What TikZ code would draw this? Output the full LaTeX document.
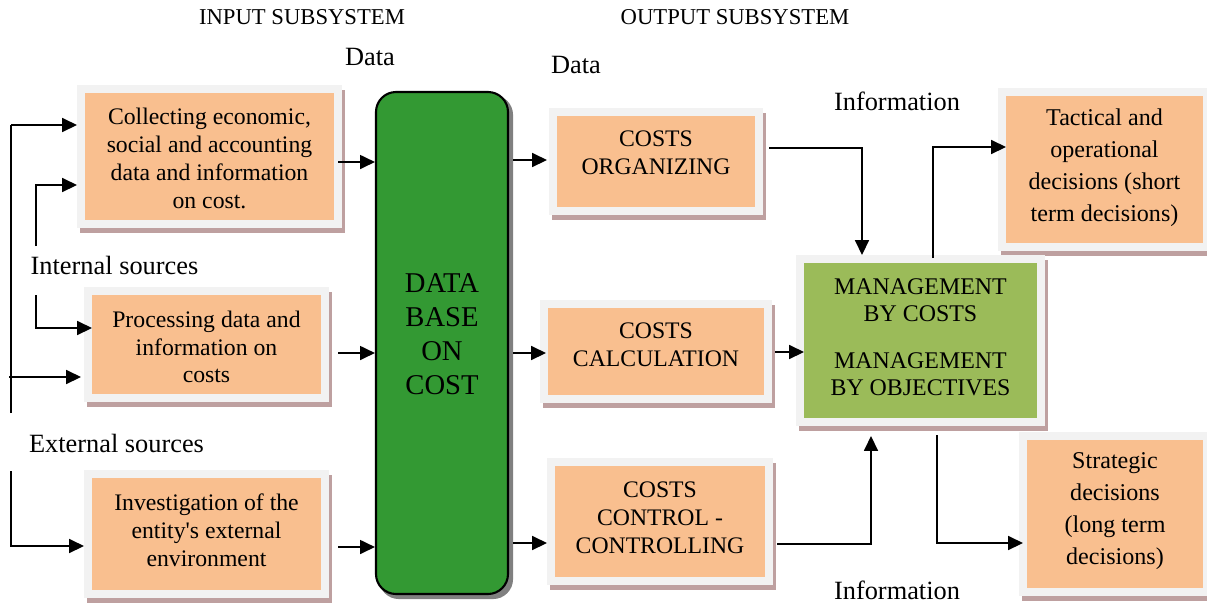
\documentclass[tikz,border=0pt]{standalone}
\usepackage{fontspec}
\setmainfont{Liberation Serif}
\usetikzlibrary{arrows.meta,calc}
\pgfdeclarelayer{bg}
\pgfsetlayers{bg,main}
\definecolor{boxorange}{RGB}{249,191,143}
\definecolor{framegray}{RGB}{242,242,242}
\definecolor{shadowc}{RGB}{190,160,160}
\definecolor{dbgreen}{RGB}{51,153,51}
\definecolor{mgtgreen}{RGB}{155,187,89}
\definecolor{dbshadow}{RGB}{128,128,128}
\begin{document}
\begin{tikzpicture}[x=0.02cm,y=-0.02cm,
  box/.style={draw=framegray, line width=0.16cm, fill=boxorange, inner sep=0pt},
  bx/.style 2 args={box, minimum width=#1*0.02cm, minimum height=#2*0.02cm},
  dbbox/.style={draw=black, line width=1.2pt, fill=dbgreen, rounded corners=0.4cm,
    minimum width=132*0.02cm, minimum height=502*0.02cm, inner sep=0pt},
  txt/.style={align=center, inner sep=0pt, font=\fontsize{13.5}{15.8}\selectfont},
  txtwide/.style={align=center, inner sep=0pt, font=\fontsize{13.7}{18.2}\selectfont},
  dbtxt/.style={align=center, inner sep=0pt, font=\fontsize{16.3}{19.3}\selectfont},
  lbl/.style={inner sep=0pt, font=\fontsize{15}{18}\selectfont},
  ttl/.style={inner sep=0pt, font=\fontsize{12.9}{15}\selectfont},
  ln/.style={line width=0.85pt},
  conn/.style={line width=0.85pt, -{Triangle[length=8.5pt,width=8pt]}}]
\useasboundingbox (0,0) rectangle (1207,603);
\clip (0,0) rectangle (1207,603);

% boxes
\node[bx={257}{135}] (coll) at (209.5,156.5) {};
\node[bx={237}{107}] (proc) at (206.5,344.5) {};
\node[bx={237}{120}] (inv) at (206.5,534) {};
\node[dbbox] (db) at (442,343) {};
\node[bx={206}{99}] (org) at (656,161.5) {};
\node[bx={224}{95}] (calc) at (656,351.5) {};
\node[bx={218}{119}] (ctrl) at (660,521.5) {};
\node[bx={241}{163}, fill=mgtgreen] (mgt) at (920.5,340.5) {};
\node[bx={205}{155}] (tact) at (1104.5,169.5) {};
\node[bx={184}{156}] (strat) at (1115,514) {};

\begin{pgfonlayer}{bg}
\fill[white] (0,0) rectangle (1207,603);
\foreach \n in {coll,proc,inv,org,calc,ctrl,mgt,tact,strat}
  \fill[shadowc] ([shift={(3,5)}]\n.south west) rectangle ([shift={(3,5)}]\n.north east);
\fill[dbshadow, rounded corners=0.4cm] ([shift={(4,4)}]db.south west) rectangle ([shift={(4,4)}]db.north east);
\end{pgfonlayer}

% texts in boxes
\node[txt] (collT) at (209.5,158.5) {Collecting economic,\\social and accounting\\data and information\\on cost.};
\node[txt] (procT) at (206.5,347) {Processing data and\\information on\\costs};
\node[txt] (invT) at (206.5,530) {Investigation of the\\entity\textquotesingle s external\\environment};
\node[dbtxt] (dbT) at (442,334) {DATA\\BASE\\ON\\COST};
\node[txt] (orgT) at (656,153) {COSTS\\ORGANIZING};
\node[txt] (calcT) at (656,344.5) {COSTS\\CALCULATION};
\node[txt] (ctrlT) at (660,517.5) {COSTS\\CONTROL -\\CONTROLLING};
\node[txt, font=\fontsize{13.6}{15.4}\selectfont] (mgtT) at (920.5,337.5) {MANAGEMENT\\BY COSTS\\[11.4pt]MANAGEMENT\\BY OBJECTIVES};
\node[txtwide] (tactT) at (1104.5,168) {Tactical and\\operational\\decisions (short\\term decisions)};
\node[txtwide] (stratT) at (1115,511) {Strategic\\decisions\\(long term\\decisions)};

% free labels
\node[ttl] (inTitle) at (302,17) {INPUT SUBSYSTEM};
\node[ttl] (outTitle) at (735,17) {OUTPUT SUBSYSTEM};
\node[lbl] (data1) at (370,57) {Data};
\node[lbl] (data2) at (576,65) {Data};
\node[lbl] (info1) at (897,101) {Information};
\node[lbl] (info2) at (897,590) {Information};
\node[lbl] (ints) at (114.5,265) {Internal sources};
\node[lbl] (exts) at (116.5,443) {External sources};

% left side connectors
\coordinate (a1) at (11,413);
\coordinate (a2) at (11,125);
\coordinate (a3) at (9,377);
\draw[ln] (a1) -- (a2);
\draw[conn] (a2) -- (coll.west |- a2);
\draw[conn] (a3) -- ($(proc.west |- a3)+(-3,0)$);
\coordinate (b1) at (36,246);
\coordinate (b2) at (36,185);
\draw[conn] (b1) -- (b2) -- (coll.west |- b2);
\coordinate (b3) at (36,295);
\coordinate (b4) at (36,328);
\draw[conn] (b3) -- (b4) -- ($(proc.west |- b4)+(8,0)$);
\coordinate (c1) at (11,471);
\coordinate (c2) at (11,546);
\draw[conn] (c1) -- (c2) -- (inv.west |- c2);

% into data base
\draw[conn] ($(coll.east |- 0,162)+(-4,0)$) -- (db.west |- 0,162);
\draw[conn] ($(proc.east |- 0,353)+(9,0)$) -- (db.west |- 0,353);
\draw[conn] ($(inv.east |- 0,547)+(9,0)$) -- (db.west |- 0,547);

% out of data base
\draw[conn] ($(db.east |- 0,160)+(4,0)$) -- ($(org.west |- 0,160)+(-2,0)$);
\draw[conn] ($(db.east |- 0,353)+(4,0)$) -- ($(calc.west |- 0,353)+(6,0)$);
\draw[conn] ($(db.east |- 0,543)+(4,0)$) -- (ctrl.west |- 0,543);

% into management
\draw[conn] ($(org.east |- 0,148)+(6,0)$) -| ($(mgt.north west)+(66,0)$);
\draw[conn] ($(calc.east |- 0,352)+(3,0)$) -- ($(mgt.west |- 0,352)+(8,0)$);
\draw[conn] ($(ctrl.east |- 0,544)+(4,0)$) -| ($(mgt.south west)+(75,10)$);

% out of management
\draw[conn] ($(mgt.north west)+(137,3)$) |- ($(tact.west |- 0,147)+(8,0)$);
\draw[conn] ($(mgt.south west)+(141,9)$) |- ($(strat.west |- 0,543)+(4,0)$);
\end{tikzpicture}
\end{document}
